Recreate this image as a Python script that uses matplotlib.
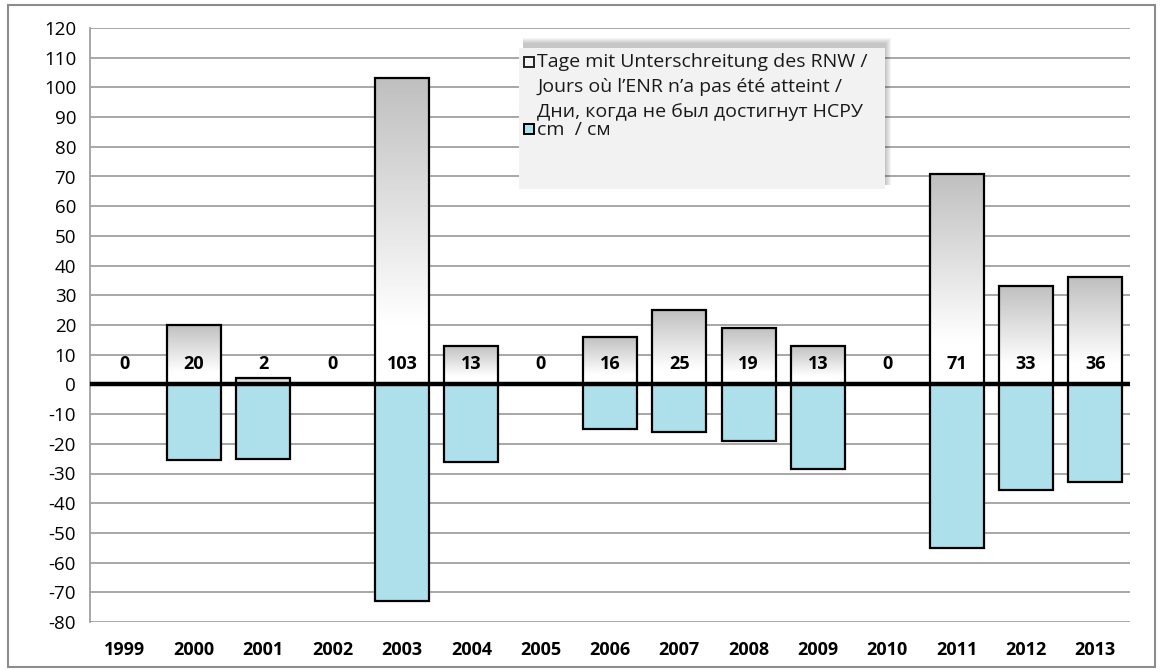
import numpy as np
import matplotlib.pyplot as plt
from matplotlib.patches import Rectangle

years = ['1999', '2000', '2001', '2002', '2003', '2004', '2005', '2006',
         '2007', '2008', '2009', '2010', '2011', '2012', '2013']
days_below = [0, 20, 2, 0, 103, 13, 0, 16, 25, 19, 13, 0, 71, 33, 36]
deficit_cm = [0, -25.5, -25, 0, -73, -26, 0, -15, -16, -19, -28.5, 0, -55, -35.5, -33]

label_days = ['Tage mit Unterschreitung des RNW /',
              'Jours où l\u2019ENR n\u2019a pas été atteint /',
              'Дни, когда не был достигнут НСРУ']
label_cm = 'cm  / см'

plt.rcParams['font.family'] = ['Open Sans', 'DejaVu Sans']
plt.rcParams['axes.unicode_minus'] = False

W, H = 1162, 670
fig = plt.figure(figsize=(W / 100, H / 100), dpi=100)
ax = fig.add_axes([90 / W, 1 - 622 / H, (1130 - 90) / W, (622 - 28) / H])

x = np.arange(len(years))
bw = 0.78

# negative bars: light water blue
ax.bar(x, deficit_cm, width=bw, color='#ade0ea', edgecolor='black',
       linewidth=1.6, zorder=3)

# positive bars: grey at the top fading to white, drawn as images under an outline
t = np.linspace(0, 1, 200)
shade = np.clip(0.75 + 0.25 * t / 0.8, 0, 1)
grad_img = np.repeat(shade[:, None, None], 3, axis=2)
for xi, h in zip(x, days_below):
    if h <= 0:
        continue
    ax.imshow(grad_img, extent=[xi - bw / 2, xi + bw / 2, 0, h],
              origin='upper', aspect='auto', zorder=2, interpolation='bilinear')
ax.bar(x, days_below, width=bw, facecolor='none', edgecolor='black',
       linewidth=1.6, zorder=3)

for xi, h in zip(x, days_below):
    ax.text(xi, 7, str(h), ha='center', va='center', fontsize=13,
            fontweight='bold', zorder=5)

ax.axhline(0, color='black', linewidth=3.2, zorder=4)

ax.set_xlim(-0.5, len(years) - 0.5)
ax.set_ylim(-80, 120)
ax.set_yticks(np.arange(-80, 121, 10))
ax.set_xticks(x)
ax.set_xticklabels(years, fontweight='bold', fontsize=13)
ax.tick_params(axis='y', labelsize=13.5, length=0, pad=10)
ax.tick_params(axis='x', length=0, pad=14)
ax.yaxis.grid(True, color='#a0a0a0', linewidth=1.3, zorder=0)
ax.set_axisbelow(True)
for s in ['top', 'right', 'bottom']:
    ax.spines[s].set_visible(False)
ax.spines['left'].set_color('#a0a0a0')
ax.spines['left'].set_linewidth(1.3)

# outer chart frame
fig.patches.append(Rectangle((8 / W, 1 - 667 / H), (1155 - 8) / W, (667 - 5) / H,
                             transform=fig.transFigure, facecolor='none',
                             edgecolor='#8c8c8c', linewidth=1.5, zorder=0))

# legend box with soft shadow up and to the right
lx0, lx1, ly0, ly1 = 519, 885, 48, 189
for k in range(6):
    off = 1 + k
    fig.patches.append(Rectangle(((lx0 + 4) / W, 1 - (ly1 - 4) / H),
                                 (lx1 - lx0 - 4 + off) / W,
                                 (ly1 - ly0 + off) / H,
                                 transform=fig.transFigure, facecolor='black',
                                 edgecolor='none', alpha=0.04, zorder=6))
fig.patches.append(Rectangle((lx0 / W, 1 - ly1 / H), (lx1 - lx0) / W, (ly1 - ly0) / H,
                             transform=fig.transFigure, facecolor='#f2f2f2',
                             edgecolor='none', zorder=7))
fig.patches.append(Rectangle((524 / W, 1 - 67 / H), 10 / W, 10 / H,
                             transform=fig.transFigure, facecolor='#f4f4f4',
                             edgecolor='#222222', linewidth=1.4, zorder=8))
fig.patches.append(Rectangle((524 / W, 1 - 134 / H), 10 / W, 10 / H,
                             transform=fig.transFigure, facecolor='#ade0ea',
                             edgecolor='black', linewidth=1.4, zorder=8))
for line, yy in zip(label_days, [62, 87, 112]):
    fig.text(537 / W, 1 - yy / H, line, fontsize=14, va='center', ha='left',
             color='#1a1a1a', zorder=9)
fig.text(537 / W, 1 - 130 / H, label_cm, fontsize=14, va='center', ha='left',
         color='#1a1a1a', zorder=9)

fig.savefig('out.png', dpi=100)
